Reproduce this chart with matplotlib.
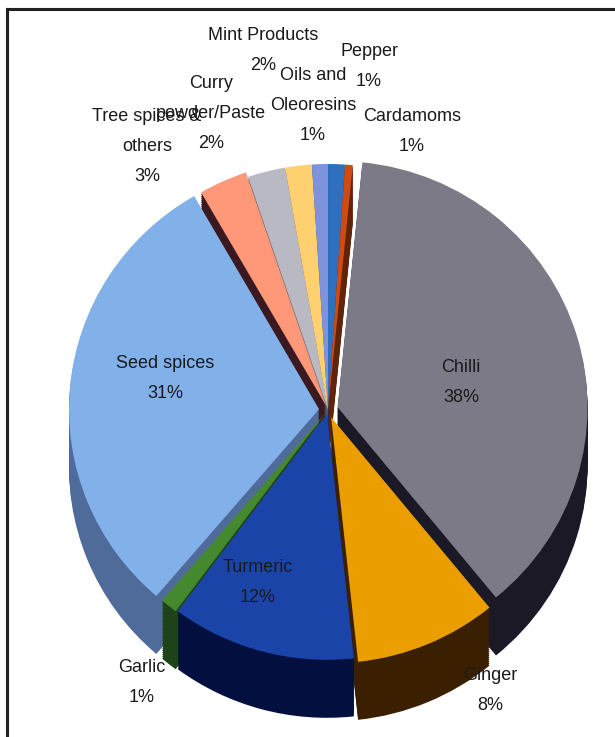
import matplotlib
matplotlib.use("Agg")
import matplotlib.pyplot as plt
from matplotlib.lines import Line2D

plt.rcParams['font.family'] = ['Liberation Sans', 'DejaVu Sans']

names = ['Chilli', 'Ginger', 'Turmeric', 'Garlic', 'Seed spices', 'Tree spices &\nothers',
         'Curry\npowder/Paste', 'Mint Products', 'Oils and\nOleoresins', 'Pepper', 'Cardamoms']
shares = [37.5, 9.2, 11.9, 1.1, 30.4, 3.14, 2.44, 1.72, 1.03, 1.08, 0.5]
printed = [38, 8, 12, 1, 31, 3, 2, 2, 1, 1, 1]

top_colors = ['#7d7a87', '#eb9e00', '#1b44a8', '#45892f', '#82b1ea', '#ff9878',
              '#b9b9c3', '#ffd070', '#7d93dc', '#2e70bf', '#cf4b14']
side_colors = ['#1b1926', '#3a2000', '#03103f', '#1f4318', '#4f6b9a', '#3a1a20',
               '#55555c', '#7a6030', '#3c4670', '#17385f', '#5f2409']
explode = [10, 8, 4, 5, 9, 5, 0, 0, 0, 0, 0]
label_xy = [(461, 383), (490, 690), (258, 582), (142, 683), (165, 379), (147, 146),
            (211, 114), (263, 51), (313, 106), (369, 66), (412, 131)]

W, H = 615, 737
RX, RY = 250, 246
CX, CY = 328, 410
DEPTH = 58
yscale = RX / RY


def py(y):
    return (H - y) * yscale


def main():
    fig = plt.figure(figsize=(W / 100, H / 100), dpi=100)
    ax = fig.add_axes([0, 0, 1, 1])

    for d in range(DEPTH, 0, -2):
        ax.pie(shares, colors=side_colors, explode=explode, radius=RX, startangle=84.3,
               counterclock=False, center=(CX, py(CY + d)), wedgeprops={'linewidth': 0})
    ax.pie(shares, colors=top_colors, explode=explode, radius=RX, startangle=84.3,
           counterclock=False, center=(CX, py(CY)), wedgeprops={'linewidth': 0})

    ax.set_aspect('auto')
    ax.set_xlim(0, W)
    ax.set_ylim(0, H * yscale)
    ax.axis('off')

    for name, pct, (x, y) in zip(names, printed, label_xy):
        ax.text(x, py(y), f"{name}\n{pct}%", ha='center', va='center', fontsize=13,
                linespacing=2.0, color='#1a1a1a')

    fig.add_artist(Line2D([7 / W, 7 / W], [0, 1 - 9 / H], color='#222222', lw=2.2))
    fig.add_artist(Line2D([7 / W, 1], [1 - 9 / H, 1 - 9 / H], color='#222222', lw=2.2))

    fig.savefig('out.png', dpi=100)


if __name__ == "__main__":
    main()
